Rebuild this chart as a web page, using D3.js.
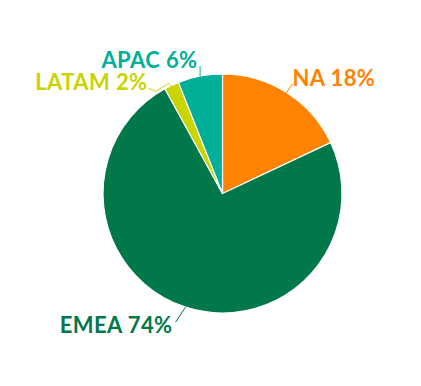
<!DOCTYPE html>
<html><head><meta charset="utf-8">
<script src="https://cdn.jsdelivr.net/npm/d3@7"></script>
<style>html,body{margin:0;padding:0;background:#fff;}svg{display:block;}</style>
</head><body>
<svg id="c" width="421" height="386"></svg>
<script>
const categories = ["NA", "EMEA", "LATAM", "APAC"];
const values = [18, 74, 2, 6];
const colors = ["#FF8200", "#00784A", "#C9D400", "#00AF97"];

const W = 421, H = 386, cx = 222.5, cy = 193.5, R = 119.5;
const svg = d3.select("#c");
const g = svg.append("g").attr("transform", `translate(${cx},${cy})`);
const data = categories.map((c, i) => ({cat: c, v: values[i], col: colors[i]}));
const pie = d3.pie().value(d => d.v).sort(null);
const arc = d3.arc().innerRadius(0).outerRadius(R);
const arcs = pie(data);

g.selectAll("path.slice").data(arcs).join("path")
  .attr("class", "slice")
  .attr("d", arc)
  .attr("fill", d => d.data.col)
  .attr("stroke", "#fff").attr("stroke-width", 1.2);

function pt(d, r) {
  const a = (d.startAngle + d.endAngle) / 2;
  return [r * Math.sin(a), -r * Math.cos(a)];
}
const layout = {
  NA:    {line: (p) => [p, [p[0] + 6, p[1] - 9]], text: [70, -108], anchor: "start"},
  EMEA:  {line: (p) => [p, [p[0] - 10, p[1] + 15]], text: [-50, 139], anchor: "end"},
  LATAM: {line: (p) => [[p[0] + 1, p[1] + 2], [p[0] - 3, p[1] - 2], [p[0] - 16, p[1] + 6], [p[0] - 23, p[1] + 3]], text: [-75, -104], anchor: "end"},
  APAC:  {line: (p) => [p, [p[0], p[1] - 10]], text: [-25, -126], anchor: "end"}
};

arcs.forEach(d => {
  const L = layout[d.data.cat];
  const p = pt(d, R);
  g.append("polyline")
    .attr("points", L.line(p).map(q => q.join(",")).join(" "))
    .attr("fill", "none").attr("stroke", d.data.col).attr("stroke-width", 1);
  g.append("text")
    .attr("x", L.text[0]).attr("y", L.text[1])
    .attr("text-anchor", L.anchor)
    .attr("font-family", "Lato, 'Open Sans', sans-serif")
    .attr("font-weight", "bold")
    .attr("font-size", 22)
    .attr("letter-spacing", 0.4)
    .attr("fill", d.data.col)
    .text(`${d.data.cat} ${d.data.v}%`);
});
</script>
</body></html>
